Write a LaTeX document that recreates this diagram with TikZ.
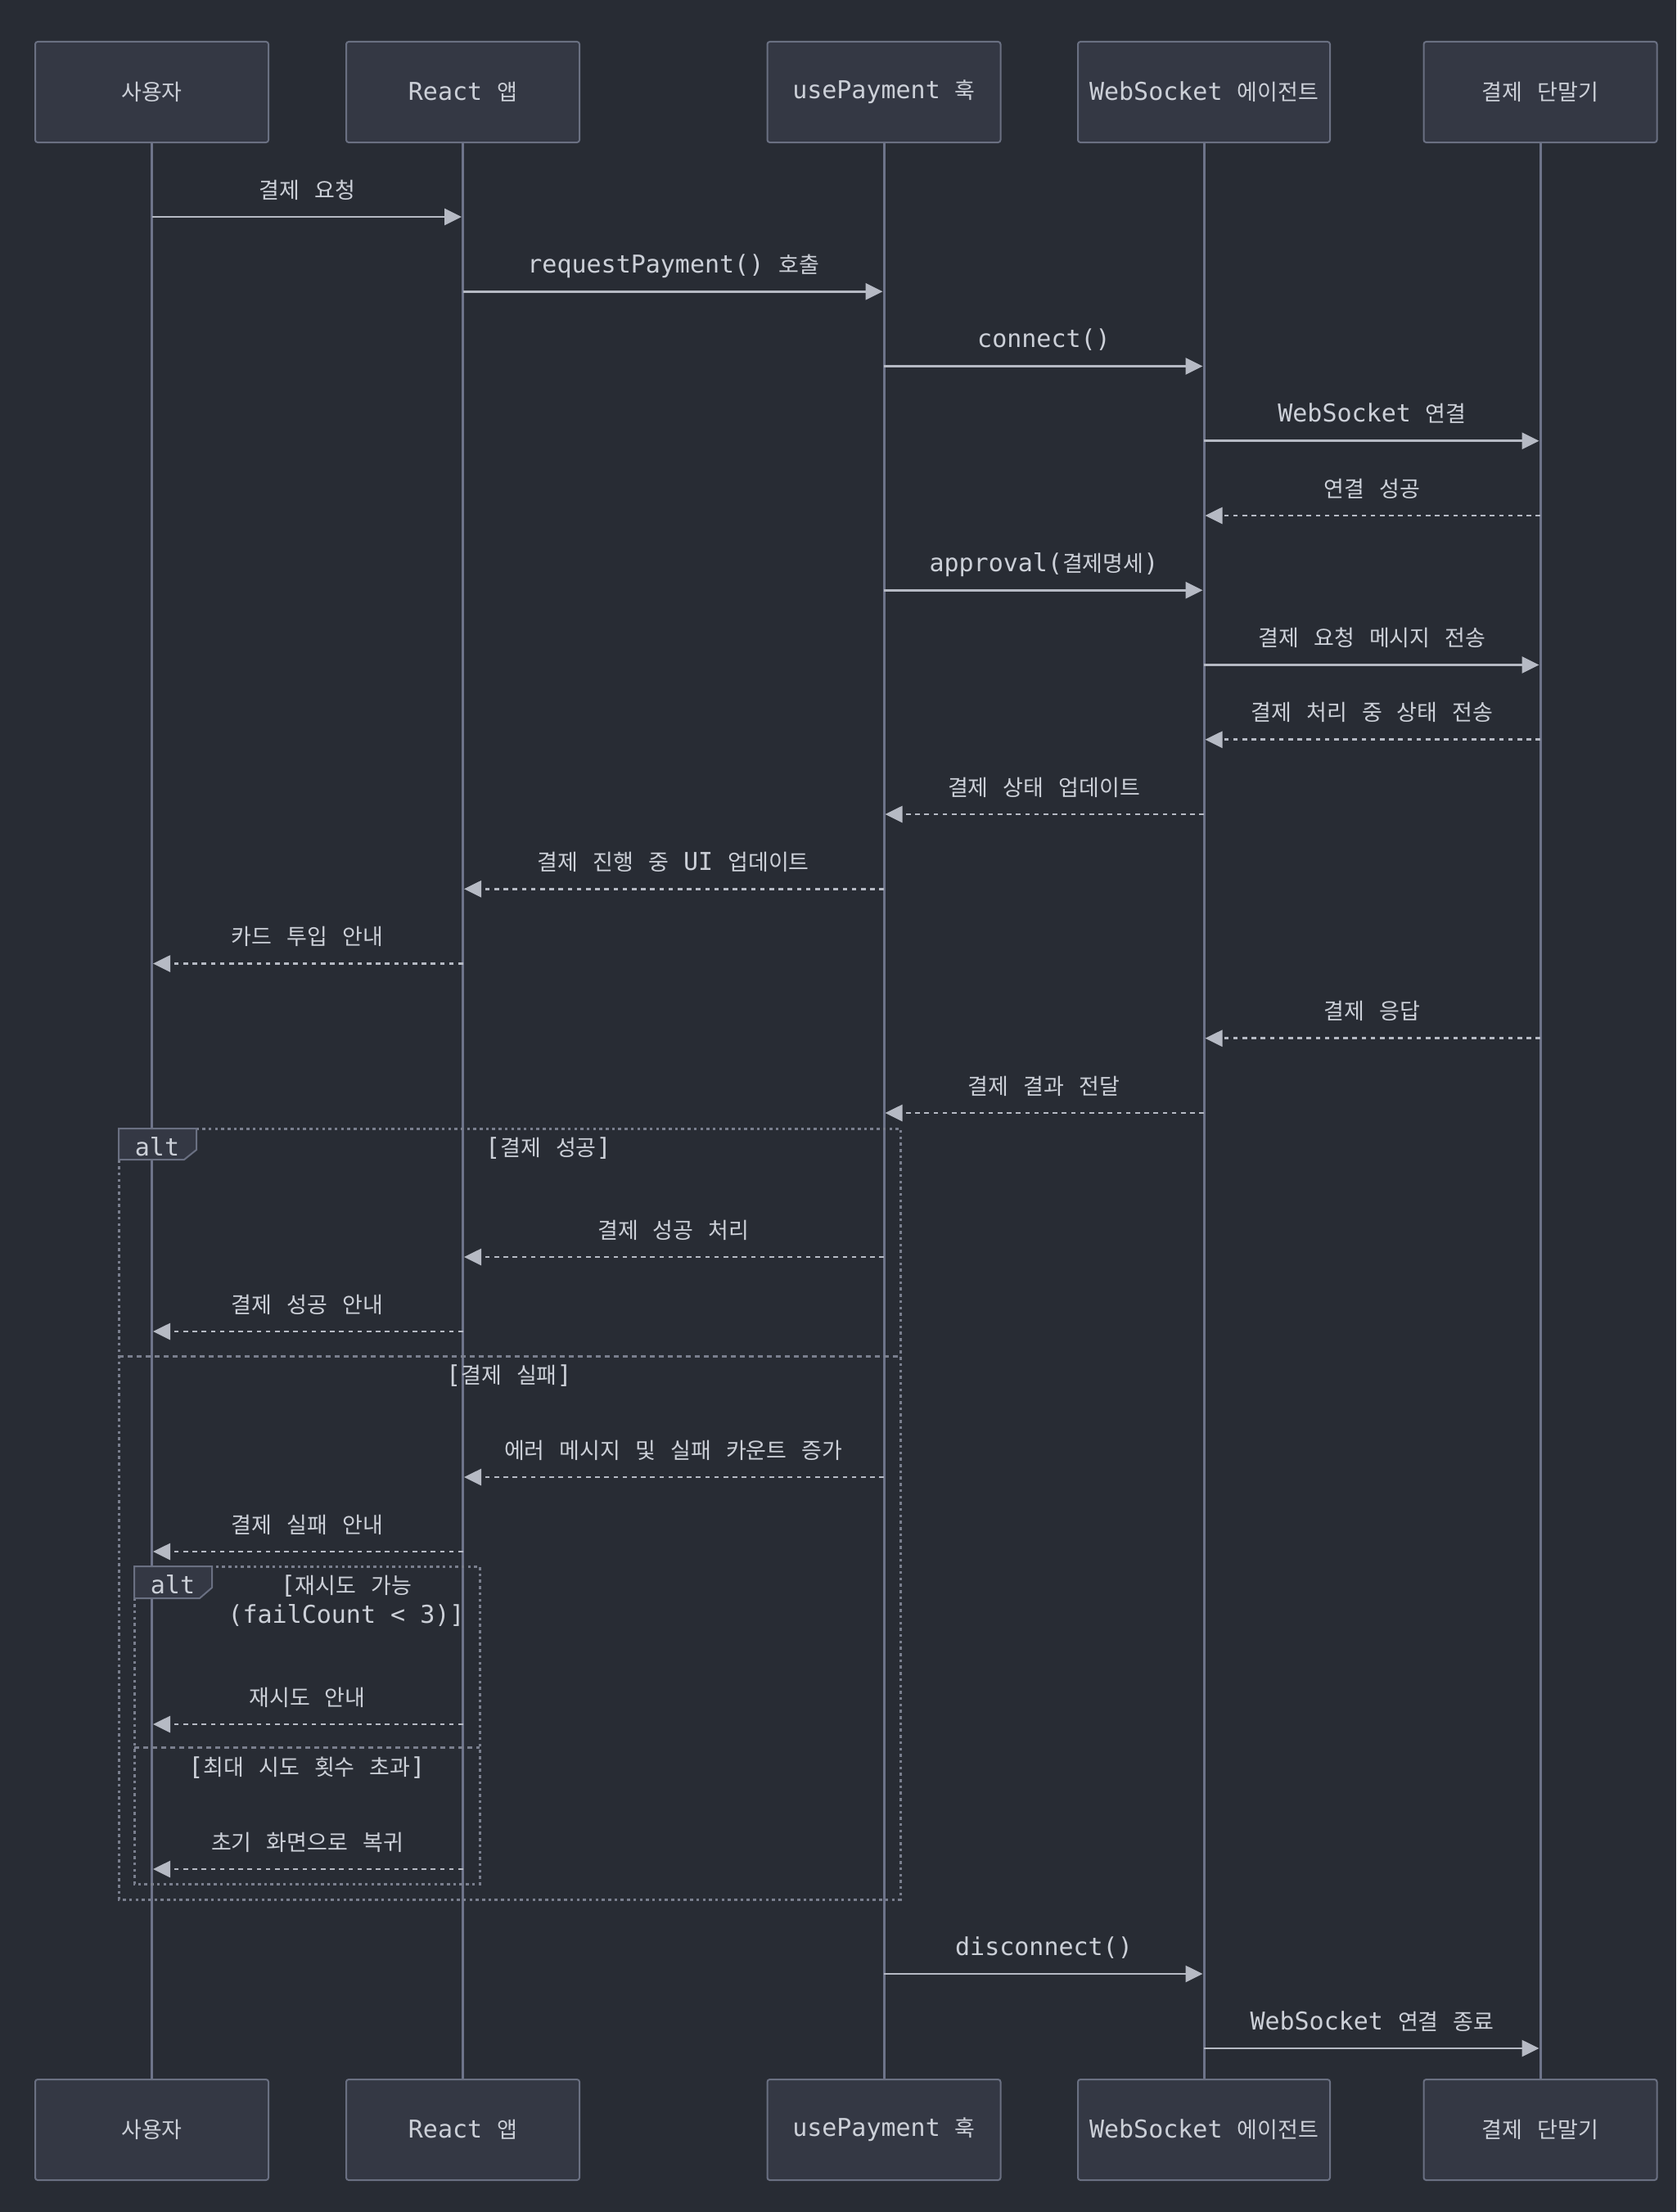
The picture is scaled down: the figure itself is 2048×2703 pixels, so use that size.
\documentclass[tikz,border=0pt]{standalone}
\usepackage{fontspec}
\setmainfont{DejaVu Sans Mono}
\newfontfamily\krfont[Scale=0.9]{Noto Sans CJK KR}
\usetikzlibrary{arrows.meta}
\definecolor{bgcol}{HTML}{282C34}
\definecolor{boxfill}{HTML}{343844}
\definecolor{boxline}{HTML}{6A7082}
\definecolor{lifecol}{HTML}{6E748A}
\definecolor{msgcol}{HTML}{B6BAC4}
\definecolor{framecol}{HTML}{7A7F8E}
\definecolor{txtcol}{HTML}{CCD0D8}
% Hangul syllables are set in the Korean font
\XeTeXinterchartokenstate=1
\count255="AC00
\loop\ifnum\count255<"D7A4
  \XeTeXcharclass\count255=10
  \advance\count255 by 1
\repeat
\XeTeXinterchartoks 0 10 = {\begingroup\krfont}
\XeTeXinterchartoks 4095 10 = {\begingroup\krfont}
\XeTeXinterchartoks 10 0 = {\endgroup}
\XeTeXinterchartoks 10 4095 = {\endgroup}
\begin{document}
\begin{tikzpicture}[x=1pt,y=-1pt,>={Triangle[length=21pt,width=20pt]},
    font=\fontsize{30}{36}\selectfont,text=txtcol]
    \tikzset{actor/.style={draw=boxline,fill=boxfill,line width=2pt,rounded corners=3pt,
            minimum height=123pt,inner sep=0pt},
        life/.style={draw=lifecol,line width=3pt},
        sync/.style={->,draw=msgcol,line width=2.8pt,shorten >=1.5pt},
        reply/.style={sync,dash pattern=on 5.6pt off 5.6pt},
        frame/.style={draw=framecol,line width=3pt,dash pattern=on 3.5pt off 4.2pt},
        sep/.style={draw=framecol,line width=3pt,dash pattern=on 6pt off 5pt},
        tab/.style={draw=boxline,fill=boxfill,line width=2pt},
        lbl/.style={anchor=base,yshift=23pt}
    }
    \fill[bgcol] (0,0) rectangle (2048,2703);
    \foreach \n/\x/\w/\t in {usr/185.5/285/사용자,app/565.5/285/React 앱,hook/1080/285/usePayment 훅,
        ws/1471/308/WebSocket 에이전트,term/1882/285/결제 단말기}{
        \node[actor,minimum width=\w pt] (\n) at (\x,112.5) {\t};
        \node[actor,minimum width=\w pt] (\n-b) at (\x,2602.5) {\t};
        \draw[life] (\n) -- (\n-b);
    }
    \draw[frame] (145,1379) rectangle (1100,2321);
    \draw[sep] (145,1657) -- (1100,1657);
    \draw[tab] (145,1379) -- (240,1379) -- (240,1405) -- (225,1417) -- (145,1417) -- cycle;
    \node[anchor=base] (alt1) at (192,1412) {alt};
    \node[anchor=base] (okcase) at (670,1412) {[결제 성공]};
    \node[anchor=base] (failcase) at (622,1690) {[결제 실패]};
    \draw[frame] (164,1914) rectangle (586,2302);
    \draw[sep] (164,2135) -- (586,2135);
    \draw[tab] (164,1914) -- (259,1914) -- (259,1940) -- (244,1953) -- (164,1953) -- cycle;
    \node[anchor=base] (alt2) at (211,1947) {alt};
    \node[align=center] (retrycase) at (423,1956) {[재시도 가능\\(failCount < 3)]};
    \node[anchor=base] (maxcase) at (375,2169) {[최대 시도 횟수 초과]};
    \foreach \a/\b/\y/\s/\t in {usr/app/265/sync/결제 요청,
        app/hook/356.25/sync/requestPayment() 호출,
        hook/ws/447.5/sync/connect(),
        ws/term/538.75/sync/WebSocket 연결,
        term/ws/630/reply/연결 성공,
        hook/ws/721.25/sync/approval(결제명세),
        ws/term/812.5/sync/결제 요청 메시지 전송,
        term/ws/903.75/reply/결제 처리 중 상태 전송,
        ws/hook/995/reply/결제 상태 업데이트,
        hook/app/1086.25/reply/결제 진행 중 UI 업데이트,
        app/usr/1177.5/reply/카드 투입 안내,
        term/ws/1268.75/reply/결제 응답,
        ws/hook/1360/reply/결제 결과 전달,
        hook/app/1536/reply/결제 성공 처리,
        app/usr/1627/reply/결제 성공 안내,
        hook/app/1805/reply/에러 메시지 및 실패 카운트 증가,
        app/usr/1896/reply/결제 실패 안내,
        app/usr/2107/reply/재시도 안내,
        app/usr/2284/reply/초기 화면으로 복귀,
        hook/ws/2412/sync/disconnect(),
        ws/term/2503/sync/WebSocket 연결 종료}
    \draw[\s] (\a |- 0,\y) -- (\b |- 0,\y) node[lbl,midway]{\t};
\end{tikzpicture}
\end{document}
